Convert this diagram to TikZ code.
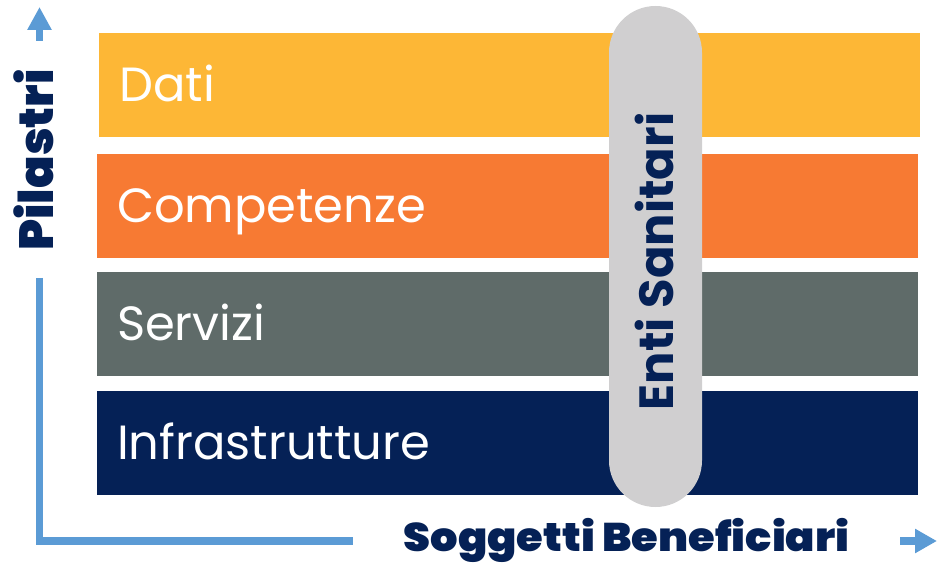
\documentclass[tikz,border=0pt]{standalone}
\usepackage{fontspec}
\setmainfont{Poppins}
\IfFontExistsTF{Poppins Black}{\newfontfamily\heavyfont{Poppins Black}}{%
  \IfFontExistsTF{Poppins ExtraBold}{\newfontfamily\heavyfont{Poppins ExtraBold}}{\def\heavyfont{\bfseries}}}
\usetikzlibrary{arrows.meta}
\definecolor{daticol}{HTML}{FDB736}
\definecolor{compcol}{HTML}{F77A33}
\definecolor{servcol}{HTML}{5F6B69}
\definecolor{infracol}{HTML}{052156}
\definecolor{pillcol}{HTML}{D0CFD0}
\definecolor{axiscol}{HTML}{5B9BD5}
\definecolor{navy}{HTML}{052156}

\begin{document}
\begin{tikzpicture}[x=1pt,y=-1pt]
\tikzstyle{band}=[rectangle,minimum width=821pt,minimum height=104pt,inner sep=0pt];
\tikzstyle{bandlabel}=[white,font=\fontsize{48}{48}\selectfont,anchor=base west,inner sep=0pt];
\tikzstyle{axis}=[color=axiscol,line width=7.5pt];
\tikzstyle{axislabel}=[navy,font=\fontsize{40}{40}\selectfont\heavyfont,inner sep=0pt,anchor=base];
\useasboundingbox (0,0) rectangle (938,564);
% pilastri
\node[band,fill=daticol] (dati) at (509,85) {};
\node[band,fill=compcol] (competenze) at (507.5,206) {};
\node[band,fill=servcol] (servizi) at (507.5,324) {};
\node[band,fill=infracol] (infrastrutture) at (507.5,442.5) {};
\node[bandlabel] (datilabel) at ([xshift=21pt,yshift=-17pt]dati.west) {Dati};
\node[bandlabel] (complabel) at ([xshift=20pt,yshift=-17pt]competenze.west) {Competenze};
\node[bandlabel] (servlabel) at ([xshift=20pt,yshift=-17pt]servizi.west) {Servizi};
\node[bandlabel] (infralabel) at ([xshift=20pt,yshift=-17pt]infrastrutture.west) {Infrastrutture};
% soggetto
\node[fill=pillcol,rounded corners=46.5pt,minimum width=93pt,minimum height=501pt,inner sep=0pt] (enti) at (655.5,256.5) {};
\node[axislabel,rotate=90,font=\fontsize{48}{48}\selectfont\bfseries] (entilabel) at (673,261.5) {Enti Sanitari};
% assi
\coordinate (ytop) at (39.5,7);
\coordinate (ystart) at (39.5,41);
\coordinate (ylow) at (39.5,278);
\coordinate (corner) at (39.5,541);
\coordinate (xend) at (353,541);
\coordinate (xstart) at (900,541);
\coordinate (xtip) at (937,541);
\draw[axis,-{Triangle[length=23pt,width=23pt]}] (ystart) -- (ytop);
\draw[axis] (ylow) -- (corner) -- (xend);
\draw[axis,-{Triangle[length=22pt,width=23pt]}] (xstart) -- (xtip);
\node[axislabel,rotate=90,font=\fontsize{48}{48}\selectfont\heavyfont] (pilastri) at (53,160) {Pilastri};
\node[axislabel] (soggetti) at (626.5,551) {\scalebox{1.08}[1]{Soggetti Beneficiari}};
\end{tikzpicture}
\end{document}
